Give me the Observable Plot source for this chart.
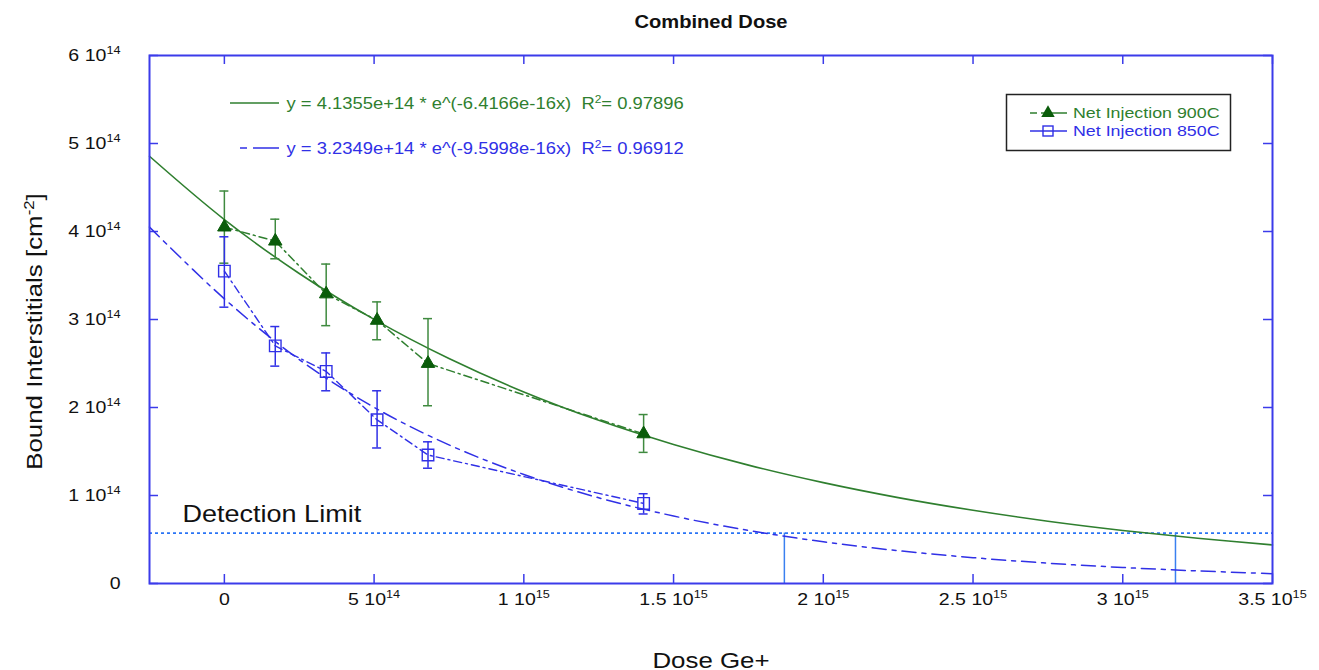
<!DOCTYPE html>
<html><head><meta charset="utf-8">
<script src="https://cdn.jsdelivr.net/npm/d3@7"></script>
<script src="https://cdn.jsdelivr.net/npm/@observablehq/plot@0.6"></script>
<style>body{margin:0;background:#fff;} svg{display:block;}</style>
</head><body><div id="chart"></div>
<script>
// ---------- data ----------
const doses = [0, 1.7e14, 3.4e14, 5.1e14, 6.8e14, 1.4e15];
const inj900 = [4.05e14, 3.89e14, 3.29e14, 2.99e14, 2.50e14, 1.70e14];
const inj900Lo = [3.64e14, 3.69e14, 2.93e14, 2.77e14, 2.02e14, 1.49e14];
const inj900Hi = [4.46e14, 4.14e14, 3.63e14, 3.20e14, 3.01e14, 1.92e14];
const inj850 = [3.55e14, 2.70e14, 2.41e14, 1.86e14, 1.46e14, 0.91e14];
const inj850Lo = [3.14e14, 2.47e14, 2.19e14, 1.54e14, 1.31e14, 0.79e14];
const inj850Hi = [3.94e14, 2.92e14, 2.62e14, 2.19e14, 1.61e14, 1.02e14];
const fitDoses = [-2.5e14, 0, 2.5e14, 5e14, 7.5e14, 1e15, 1.25e15, 1.5e15, 1.75e15, 2e15, 2.25e15, 2.5e15, 2.75e15, 3e15, 3.25e15, 3.5e15];
const fit900 = [4.855e14, 4.136e14, 3.523e14, 3.001e14, 2.556e14, 2.177e14, 1.854e14, 1.580e14, 1.345e14, 1.146e14, 0.976e14, 0.832e14, 0.708e14, 0.603e14, 0.514e14, 0.438e14];
const fit850 = [4.05e14, 3.235e14, 2.545e14, 2.002e14, 1.575e14, 1.239e14, 0.974e14, 0.767e14, 0.603e14, 0.474e14, 0.373e14, 0.294e14, 0.231e14, 0.182e14, 0.143e14, 0.112e14];
const detectionLimit = 0.573e14;
const crossingDoses = [1.87e15, 3.176e15];
const xTickValues = [0, 5e14, 1e15, 1.5e15, 2e15, 2.5e15, 3e15, 3.5e15];
const xTickLabels = ["0", "5 10^{14}", "1 10^{15}", "1.5 10^{15}", "2 10^{15}", "2.5 10^{15}", "3 10^{15}", "3.5 10^{15}"];
const yTickValues = [0, 1e14, 2e14, 3e14, 4e14, 5e14, 6e14];
const yTickLabels = ["0", "1 10^{14}", "2 10^{14}", "3 10^{14}", "4 10^{14}", "5 10^{14}", "6 10^{14}"];
const seriesNames = ["Net Injection 900C", "Net Injection 850C"];
const fitLabels = ["y = 4.1355e+14 * e^(-6.4166e-16x)\u00a0\u00a0R^{2}= 0.97896",
                   "y = 3.2349e+14 * e^(-9.5998e-16x)\u00a0\u00a0R^{2}= 0.96912"];
const titleText = "Combined Dose";
const xLabel = "Dose Ge+";
const yLabel = "Bound Interstitials [cm^{-2}]";
const detectionText = "Detection Limit";

// ---------- layout & style ----------
const W = 1319, H = 670;
const mL = 149, mR = 47, mT = 55, mB = 87;
const xDomain = [-2.5e14, 3.5e15], yDomain = [0, 6e14];
const pxX = (xDomain[1] - xDomain[0]) / (W - mL - mR);
const pxY = (yDomain[1] - yDomain[0]) / (H - mT - mB);
const FRAME = "#3b3bea", GREEN = "#2f7f2f", GREEN_D = "#0a5c0a", GREEN_E = "#3f8a3f",
      BLUE = "#3030e6", DET = "#2a74f5", VLINE = "#3a80f0";
const FONT = "'Liberation Sans', Arial, sans-serif";
const STRETCH = 1.15;

const pts900 = doses.map((x, i) => ({x, y: inj900[i], lo: inj900Lo[i], hi: inj900Hi[i]}));
const pts850 = doses.map((x, i) => ({x, y: inj850[i], lo: inj850Lo[i], hi: inj850Hi[i]}));
const fitG = fitDoses.map((x, i) => ({x, y: fit900[i]}));
const fitB = fitDoses.map((x, i) => ({x, y: fit850[i]}));
const caps = (pts) => pts.flatMap(d => [{x: d.x, y: d.lo}, {x: d.x, y: d.hi}]);
const capHalf = 4.5 * pxX;
const tkX = 9 * pxX, tkY = 9 * pxY;
const xLab = new Map(xTickValues.map((v, i) => [v, xTickLabels[i]]));
const yLab = new Map(yTickValues.map((v, i) => [v, yTickLabels[i]]));

const chart = Plot.plot({
  width: W, height: H,
  marginLeft: mL, marginRight: mR, marginTop: mT, marginBottom: mB,
  style: {fontFamily: FONT, fontSize: "17px", background: "#fff", color: "#111", overflow: "visible"},
  x: {domain: xDomain, ticks: xTickValues, tickFormat: d => xLab.get(d), tickSize: 0, tickPadding: 9, label: null},
  y: {domain: yDomain, ticks: yTickValues, tickFormat: d => yLab.get(d), tickSize: 0, tickPadding: 29, label: null},
  marks: [
    // inward ticks
    Plot.ruleX(xTickValues, {x: d => d, y1: yDomain[0], y2: yDomain[0] + tkY, stroke: FRAME, strokeWidth: 1.5}),
    Plot.ruleX(xTickValues, {x: d => d, y1: yDomain[1], y2: yDomain[1] - tkY, stroke: FRAME, strokeWidth: 1.5}),
    Plot.ruleY(yTickValues, {y: d => d, x1: xDomain[0], x2: xDomain[0] + tkX, stroke: FRAME, strokeWidth: 1.5}),
    Plot.ruleY(yTickValues, {y: d => d, x1: xDomain[1], x2: xDomain[1] - tkX, stroke: FRAME, strokeWidth: 1.5}),
    // detection limit
    Plot.ruleY([detectionLimit], {stroke: DET, strokeWidth: 1.6, strokeDasharray: "3,3"}),
    Plot.ruleX(crossingDoses, {x: d => d, y1: 0, y2: detectionLimit, stroke: VLINE, strokeWidth: 1.5}),
    Plot.text([detectionText], {y: detectionLimit, frameAnchor: "left", dx: 33, dy: -19, textAnchor: "start", fontSize: 23.5, fill: "#111"}),
    // fits
    Plot.line(fitG, {x: "x", y: "y", stroke: GREEN, strokeWidth: 1.6, curve: "catmull-rom"}),
    Plot.line(fitB, {x: "x", y: "y", stroke: BLUE, strokeWidth: 1.5, strokeDasharray: "14,6,4,6", curve: "catmull-rom"}),
    // data connecting lines
    Plot.line(pts900, {x: "x", y: "y", stroke: GREEN, strokeWidth: 1.5, strokeDasharray: "8,4,2,4"}),
    Plot.line(pts850, {x: "x", y: "y", stroke: BLUE, strokeWidth: 1.4, strokeDasharray: "8,4,2,4"}),
    // error bars
    Plot.ruleX(pts900, {x: "x", y1: "lo", y2: "hi", stroke: GREEN_E, strokeWidth: 1.5}),
    Plot.ruleY(caps(pts900), {y: "y", x1: d => d.x - capHalf, x2: d => d.x + capHalf, stroke: GREEN_E, strokeWidth: 1.5}),
    Plot.ruleX(pts850, {x: "x", y1: "lo", y2: "hi", stroke: BLUE, strokeWidth: 1.5}),
    Plot.ruleY(caps(pts850), {y: "y", x1: d => d.x - capHalf, x2: d => d.x + capHalf, stroke: BLUE, strokeWidth: 1.5}),
    // markers
    Plot.dot(pts900, {x: "x", y: "y", symbol: "triangle", r: 5, fill: GREEN_D, stroke: GREEN_D, strokeWidth: 1}),
    Plot.dot(pts850, {x: "x", y: "y", symbol: "square", r: 6.5, fill: "none", stroke: BLUE, strokeWidth: 1.4}),
    // fit equations
    Plot.text([fitLabels[0]], {frameAnchor: "top-left", dx: 137, dy: 48, textAnchor: "start", lineAnchor: "middle", fontSize: 16, fill: GREEN}),
    Plot.text([fitLabels[1]], {frameAnchor: "top-left", dx: 137, dy: 93, textAnchor: "start", lineAnchor: "middle", fontSize: 16, fill: BLUE}),
    // titles
    Plot.text([titleText], {frameAnchor: "top", dy: -33, textAnchor: "middle", lineAnchor: "middle", fontSize: 17.5, fontWeight: "bold", fill: "#111"}),
    Plot.text([xLabel], {frameAnchor: "bottom", dy: 77, textAnchor: "middle", lineAnchor: "middle", fontSize: 22.5, fill: "#111"}),
    Plot.text([yLabel], {frameAnchor: "left", dx: -115, dy: 12, rotate: -90, textAnchor: "middle", lineAnchor: "middle", fontSize: 22.5, fill: "#111"}),
    Plot.frame({stroke: FRAME, strokeWidth: 2})
  ]
});
document.getElementById("chart").appendChild(chart);

// ---------- legend & equation samples ----------
const svg = d3.select(chart);
const g = svg.append("g").attr("text-anchor", "start");
g.append("line").attr("x1", 230).attr("x2", 279).attr("y1", mT + 48).attr("y2", mT + 48).attr("stroke", GREEN).attr("stroke-width", 1.6);
g.append("line").attr("x1", 240).attr("x2", 279).attr("y1", mT + 93).attr("y2", mT + 93).attr("stroke", BLUE).attr("stroke-width", 1.5).attr("stroke-dasharray", "7,6,40");
g.append("rect").attr("x", 1006.5).attr("y", 94.5).attr("width", 224).attr("height", 56).attr("fill", "#fff").attr("stroke", "#222").attr("stroke-width", 1.5);
const legendRows = [
  {name: seriesNames[0], color: GREEN, y: 113, dash: "7,4,30"},
  {name: seriesNames[1], color: BLUE, y: 131, dash: null}
];
legendRows.forEach((r, i) => {
  const ln = g.append("line").attr("x1", 1030).attr("x2", 1067).attr("y1", r.y).attr("y2", r.y).attr("stroke", r.color).attr("stroke-width", 1.5);
  if (r.dash) ln.attr("stroke-dasharray", r.dash);
  if (i === 0) g.append("path").attr("transform", `translate(1048,${r.y})`).attr("d", d3.symbol(d3.symbolTriangle, Math.PI * 25)()).attr("fill", GREEN_D);
  else g.append("rect").attr("x", 1043).attr("y", r.y - 5).attr("width", 10).attr("height", 10).attr("fill", "none").attr("stroke", r.color).attr("stroke-width", 1.4);
  g.append("text").attr("x", 1073).attr("y", r.y).attr("dy", "0.35em").attr("text-anchor", "start").attr("font-size", 15.5).attr("font-family", FONT).attr("fill", r.color).text(r.name);
});

// ---------- superscripts ----------
chart.querySelectorAll("text, tspan").forEach(el => {
  if (el.children.length) return;
  const s = el.textContent;
  if (!s.includes("^{")) return;
  const parts = s.split(/\^\{([^}]*)\}/);
  el.textContent = "";
  parts.forEach((p, i) => {
    if (p === "") return;
    const ts = document.createElementNS("http://www.w3.org/2000/svg", "tspan");
    ts.textContent = p;
    if (i % 2 === 1) { ts.setAttribute("font-size", "65%"); ts.setAttribute("baseline-shift", "super"); }
    el.appendChild(ts);
  });
});

// ---------- stretch of text along its baseline (the reference figure is widened) ----------
chart.querySelectorAll("text").forEach(t => {
  const x = parseFloat(t.getAttribute("x")) || 0;
  const tr = t.getAttribute("transform") || "";
  t.setAttribute("transform", `${tr} translate(${x},0) scale(${STRETCH},1) translate(${-x},0)`);
});
</script></body></html>
